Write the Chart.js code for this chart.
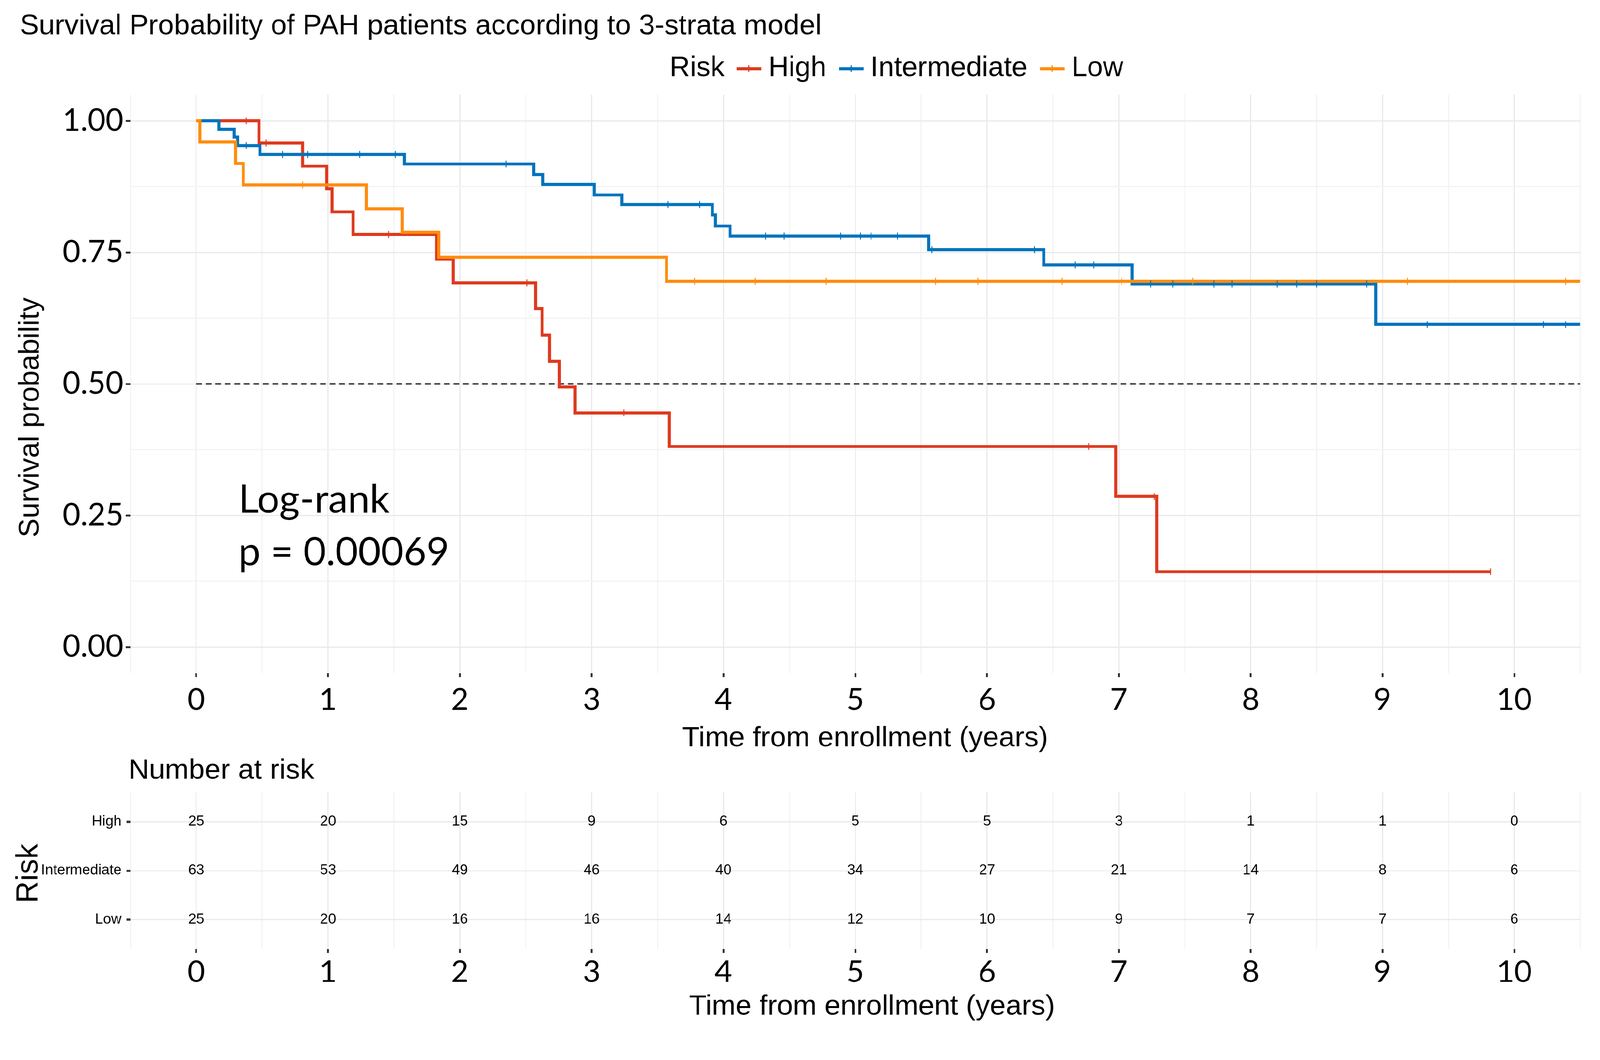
<!DOCTYPE html>
<html>
<head>
<meta charset="utf-8">
<title>Survival Probability of PAH patients according to 3-strata model</title>
<script src="https://cdn.jsdelivr.net/npm/chart.js@4.4.1/dist/chart.umd.min.js"></script>
<style>
  html, body { margin: 0; padding: 0; background: #fff; overflow: hidden; }
  #wrap { position: relative; width: 4198px; height: 2713px; transform-origin: 0 0; }
  canvas { position: absolute; left: 0; }
  #km { top: 0; }
  #risk { top: 1900px; }
</style>
</head>
<body>
<div id="wrap">
  <canvas id="km" width="4198" height="2000"></canvas>
  <canvas id="risk" width="4198" height="813"></canvas>
</div>
<script>
const groups = ['High', 'Intermediate', 'Low']
const colors = { High: '#DD3A1F', Intermediate: '#0073BD', Low: '#FF8C0E' }

// Kaplan-Meier steps (time in years, survival after the step)
const highTimes = [0, 0.476, 0.806, 0.99, 1.03, 1.19, 1.824, 1.95, 2.574, 2.624, 2.68, 2.756, 2.875, 3.59, 6.976, 7.288, 9.82]
const highSurv = [1, 0.958, 0.914, 0.871, 0.827, 0.784, 0.737, 0.692, 0.643, 0.593, 0.543, 0.494, 0.445, 0.381, 0.286, 0.143, 0.143]
const highCensor = [0.38, 0.53, 1.46, 2.51, 3.245, 6.77, 7.27, 9.82]

const intTimes = [0, 0.172, 0.288, 0.313, 0.483, 1.58, 2.56, 2.63, 3.02, 3.23, 3.916, 3.94, 4.05, 5.556, 6.43, 7.1, 8.95, 10.5]
const intSurv = [1, 0.984, 0.969, 0.953, 0.936, 0.918, 0.898, 0.879, 0.859, 0.841, 0.821, 0.8, 0.781, 0.755, 0.726, 0.69, 0.613, 0.613]
const intCensor = [0.38, 0.655, 0.846, 1.24, 1.51, 2.35, 3.58, 3.82, 4.32, 4.46, 4.89, 5.04, 5.12, 5.32, 5.58,
  6.36, 6.67, 6.81, 7.24, 7.41, 7.72, 7.86, 8.2, 8.35, 8.5, 8.88, 9.34, 10.22, 10.39]

const lowTimes = [0, 0.028, 0.298, 0.357, 1.29, 1.564, 1.84, 3.568, 10.5]
const lowSurv = [1, 0.96, 0.919, 0.878, 0.833, 0.788, 0.741, 0.695, 0.695]
const lowCensor = [0.806, 3.78, 4.24, 4.78, 5.61, 5.93, 6.57, 7.02, 7.56, 9.19, 10.39]

// number at risk table
const riskTimes = [0, 1, 2, 3, 4, 5, 6, 7, 8, 9, 10]
const riskHigh = [25, 20, 15, 9, 6, 5, 5, 3, 1, 1, 0]
const riskInt = [63, 53, 49, 46, 40, 34, 27, 21, 14, 8, 6]
const riskLow = [25, 20, 16, 16, 14, 12, 10, 9, 7, 7, 6]

// tick labels
const xTicks = [0, 1, 2, 3, 4, 5, 6, 7, 8, 9, 10]
const yTicks = [0, 0.25, 0.5, 0.75, 1]
const medianLevel = 0.5
const pValueText = 'p = 0.00069'

const xMin = -0.5
const xMax = 10.5
// minor grid lines sit halfway between the labelled ticks
const xGrid = [xMin].concat(...xTicks.map((v) => [v, v + 0.5]))
const yGrid = [].concat(...yTicks.map((v, i) => (i ? [v - 0.125, v] : [v])))

const sans = '"Liberation Sans", Arial, sans-serif'
const majorGrid = '#E9E9E9'
const minorGrid = '#F3F3F3'

// the page is laid out for 4198 x 2713; shrink it if the viewport is smaller
const fit = Math.min(window.innerWidth / 4198, window.innerHeight / 2713)
if (fit > 0 && Math.abs(fit - 1) > 0.002) {
  document.getElementById('wrap').style.transform = 'scale(' + fit + ')'
}

const stepAt = (times, surv, t) => {
  let s = surv[0]
  times.forEach((ti, i) => {
    if (ti <= t) s = surv[i]
  })
  return s
}

const series = [
  { name: 'High', times: highTimes, surv: highSurv, censor: highCensor, order: 3 },
  { name: 'Intermediate', times: intTimes, surv: intSurv, censor: intCensor, order: 2 },
  { name: 'Low', times: lowTimes, surv: lowSurv, censor: lowCensor, order: 1 },
]

const timeAxis = (labelPad, height) => ({
  type: 'linear',
  min: xMin,
  max: xMax,
  afterBuildTicks: (s) => {
    s.ticks = xGrid.map((v) => ({ value: v }))
  },
  afterFit: (s) => {
    s.height = height
  },
  ticks: {
    autoSkip: false,
    maxRotation: 0,
    padding: labelPad,
    color: '#000',
    font: { family: 'Lato', size: 80 },
    callback: (v) => (xTicks.includes(v) ? String(v) : ''),
  },
  grid: {
    color: (c) => (xTicks.includes(c.tick.value) ? majorGrid : minorGrid),
    lineWidth: 3,
    tickLength: 10,
    tickWidth: 5,
    tickColor: (c) => (xTicks.includes(c.tick.value) ? '#333' : 'rgba(0,0,0,0)'),
  },
  border: { display: false },
})

const kmText = {
  id: 'kmText',
  afterDraw(chart) {
    const { ctx, scales } = chart
    ctx.save()
    ctx.fillStyle = '#000'
    ctx.textBaseline = 'alphabetic'
    ctx.textAlign = 'left'
    ctx.font = '75px ' + sans
    ctx.fillText('Survival Probability of PAH patients according to 3-strata model', 52, 90)

    // legend
    ctx.font = '74px ' + sans
    let lx = 1757
    const ly = 200
    ctx.fillText('Risk', lx, ly)
    lx += ctx.measureText('Risk').width + 32
    groups.forEach((g) => {
      ctx.strokeStyle = colors[g]
      ctx.lineWidth = 8
      ctx.beginPath()
      ctx.moveTo(lx, ly - 20)
      ctx.lineTo(lx + 65, ly - 20)
      ctx.stroke()
      ctx.lineWidth = 3
      ctx.beginPath()
      ctx.moveTo(lx + 32, ly - 29)
      ctx.lineTo(lx + 32, ly - 11)
      ctx.stroke()
      lx += 65 + 18
      ctx.fillText(g, lx, ly)
      lx += ctx.measureText(g).width + 33
    })

    ctx.font = '75px ' + sans
    ctx.fillText('Time from enrollment (years)', 1790, 1958)

    ctx.save()
    ctx.translate(101, 1095)
    ctx.rotate(-Math.PI / 2)
    ctx.textAlign = 'center'
    ctx.fillText('Survival probability', 0, 0)
    ctx.restore()

    ctx.font = '103px Lato'
    const px = scales.x.getPixelForValue(0.32)
    ctx.fillText('Log-rank', px, scales.y.getPixelForValue(0.255))
    ctx.fillText(pValueText, px, scales.y.getPixelForValue(0.155))
    ctx.restore()
  },
}

const riskText = {
  id: 'riskText',
  afterDraw(chart) {
    const { ctx } = chart
    ctx.save()
    ctx.fillStyle = '#000'
    ctx.textAlign = 'center'
    ctx.textBaseline = 'middle'
    ctx.font = '38px ' + sans
    chart.data.datasets.forEach((ds, i) => {
      chart.getDatasetMeta(i).data.forEach((pt, j) => {
        ctx.fillText(String(ds.data[j].n), pt.x, pt.y)
      })
    })

    ctx.textAlign = 'left'
    ctx.textBaseline = 'alphabetic'
    ctx.font = '75px ' + sans
    ctx.fillText('Number at risk', 337, 143)
    ctx.fillText('Time from enrollment (years)', 1808, 762)

    ctx.save()
    ctx.translate(98, 391)
    ctx.rotate(-Math.PI / 2)
    ctx.textAlign = 'center'
    ctx.font = '80px ' + sans
    ctx.fillText('Risk', 0, 0)
    ctx.restore()
    ctx.restore()
  },
}

const draw = () => {
  const datasets = []
  series.forEach((s) => {
    datasets.push({
      label: s.name,
      data: s.times.map((t, i) => ({ x: t, y: s.surv[i] })),
      borderColor: colors[s.name],
      borderWidth: 8,
      stepped: true,
      pointRadius: 0,
      fill: false,
      order: s.order,
    })
    datasets.push({
      type: 'scatter',
      label: s.name + ' censored',
      data: s.censor.map((t) => ({ x: t, y: stepAt(s.times, s.surv, t) })),
      showLine: false,
      pointStyle: 'line',
      rotation: 90,
      pointRadius: 9,
      borderWidth: 2.5,
      borderColor: colors[s.name],
      order: 0,
    })
  })
  datasets.push({
    label: 'median',
    data: [{ x: 0, y: medianLevel }, { x: xMax, y: medianLevel }],
    borderColor: '#000',
    borderWidth: 3.5,
    borderDash: [15, 10],
    pointRadius: 0,
    order: 10,
  })

  new Chart(document.getElementById('km'), {
    type: 'line',
    data: { datasets },
    options: {
      responsive: false,
      devicePixelRatio: 1,
      animation: false,
      layout: { padding: { top: 248, right: 52, left: 0, bottom: 0 } },
      plugins: { legend: { display: false }, tooltip: { enabled: false } },
      scales: {
        x: timeAxis(12, 234),
        y: {
          type: 'linear',
          min: -0.05,
          max: 1.05,
          afterBuildTicks: (s) => {
            s.ticks = yGrid.map((v) => ({ value: v }))
          },
          afterFit: (s) => {
            s.width = 342
          },
          ticks: {
            padding: 6,
            color: '#000',
            font: { family: 'Lato', size: 81 },
            callback: (v) => (yTicks.includes(v) ? v.toFixed(2) : ''),
          },
          grid: {
            color: (c) => (yTicks.includes(c.tick.value) ? majorGrid : minorGrid),
            lineWidth: 3,
            tickLength: 12,
            tickWidth: 5,
            tickColor: (c) => (yTicks.includes(c.tick.value) ? '#333' : 'rgba(0,0,0,0)'),
          },
          border: { display: false },
        },
      },
    },
    plugins: [kmText],
  })

  const riskCounts = [riskHigh, riskInt, riskLow]
  new Chart(document.getElementById('risk'), {
    type: 'scatter',
    data: {
      datasets: groups.map((g, i) => ({
        label: g,
        data: riskTimes.map((t, j) => ({ x: t, y: i + 1, n: riskCounts[i][j] })),
        pointRadius: 0,
      })),
    },
    options: {
      responsive: false,
      devicePixelRatio: 1,
      animation: false,
      layout: { padding: { top: 178, right: 52, left: 0, bottom: 0 } },
      plugins: { legend: { display: false }, tooltip: { enabled: false } },
      scales: {
        x: timeAxis(2, 223),
        y: {
          type: 'linear',
          min: 0.4,
          max: 3.6,
          reverse: true,
          afterBuildTicks: (s) => {
            s.ticks = groups.map((g, i) => ({ value: i + 1 }))
          },
          afterFit: (s) => {
            s.width = 342
          },
          ticks: {
            padding: 13,
            color: '#000',
            font: { family: 'Liberation Sans', size: 38 },
            callback: (v) => groups[v - 1],
          },
          grid: { color: majorGrid, lineWidth: 3, tickLength: 10, tickWidth: 6, tickColor: '#333' },
          border: { display: false },
        },
      },
    },
    plugins: [riskText],
  })
}

Promise.all([
  document.fonts.load('80px Lato'),
  document.fonts.load('76px "Liberation Sans"'),
])
  .catch(() => null)
  .then(draw)
</script>
</body>
</html>
